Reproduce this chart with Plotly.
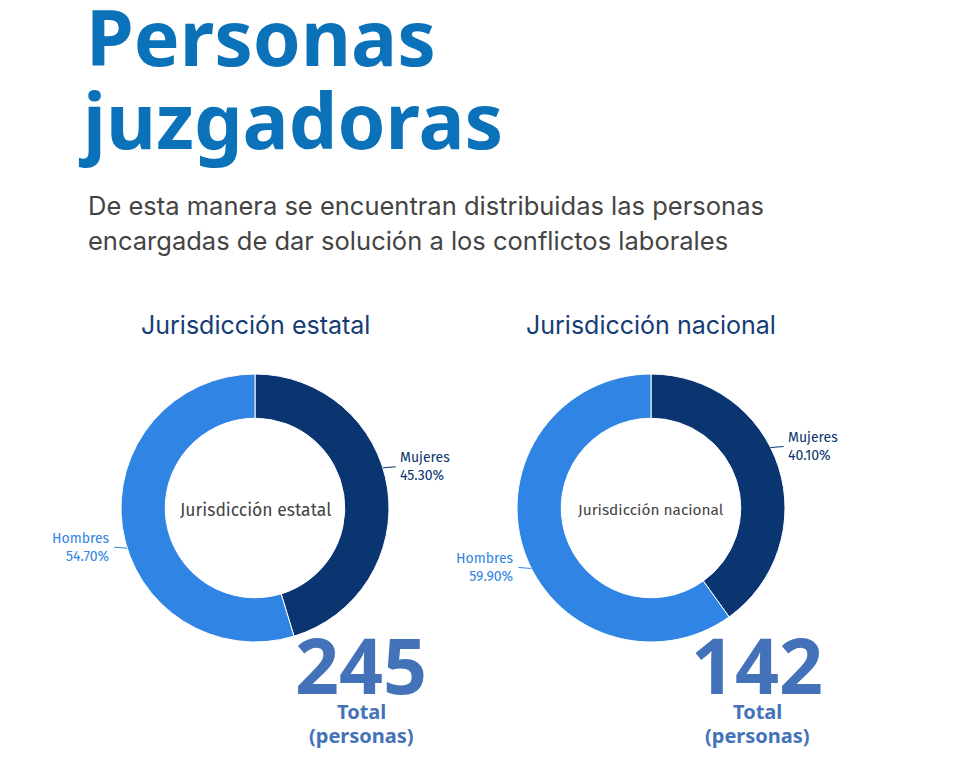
import math
import plotly.graph_objects as go

# data
categorias = ["Mujeres", "Hombres"]
estatal_pct = [45.3, 54.7]
nacional_pct = [40.1, 59.9]
totales = [245, 142]
jurisdicciones = ["Jurisdicción estatal", "Jurisdicción nacional"]

W, H = 962, 778
OFF = 8  # page margin of the html body
AZUL_OSCURO = "#0a3570"
AZUL_CLARO = "#2f84e4"
AZUL_TOTAL = "#4472b8"
colores = [AZUL_OSCURO, AZUL_CLARO]

# donut geometry in pixels (centre x, centre y, outer radius)
donas = [(255, 508, 134), (651, 508, 134)]
hueco = 0.67
giro_etiqueta = -9  # label angle shift, degrees


def px(x):
    return (x - OFF) / W


def py(y):
    return 1 - (y - OFF) / H


def texto(x, y, t, fuente, **kw):
    d = dict(x=px(x), y=py(y), xref="paper", yref="paper", text=t,
             showarrow=False, xanchor="center", yanchor="middle", font=fuente)
    d.update(kw)
    return d


fig = go.Figure()
anots = []

for i, valores in enumerate([estatal_pct, nacional_pct]):
    cx, cy, r = donas[i]
    fig.add_trace(go.Pie(
        labels=categorias,
        values=valores,
        hole=hueco,
        sort=False,
        direction="clockwise",
        rotation=0,
        marker=dict(colors=colores, line=dict(color="white", width=1)),
        textinfo="none",
        hoverinfo="label+percent",
        showlegend=False,
        domain=dict(x=[px(cx - r), px(cx + r)], y=[py(cy + r), py(cy - r)]),
    ))

    # outside labels with short connectors
    total = sum(valores)
    acumulado = 0
    for cat, v, col in zip(categorias, valores, colores):
        medio = (acumulado + v / 2) / total * 360 + giro_etiqueta
        acumulado += v
        ang = math.radians(medio)
        ex = cx + r * math.sin(ang)
        ey = cy - r * math.cos(ang)
        derecha = math.sin(ang) > 0
        anots.append(dict(
            x=px(ex), y=py(ey), xref="paper", yref="paper",
            text=f"{cat}<br>{v:.2f}%",
            showarrow=True, arrowhead=0, arrowwidth=1, arrowcolor=col,
            ax=13 if derecha else -13, ay=-1,
            xanchor="left" if derecha else "right", yanchor="middle",
            align="left" if derecha else "right",
            font=dict(family="Fira Sans, Noto Sans", size=14, color=col),
            borderpad=3,
        ))

    # text in the hole
    anots.append(texto(cx, cy + 2, jurisdicciones[i],
                       dict(family="Fira Sans, Noto Sans", size=17.5 if i == 0 else 15.4, color="#444444")))

    # heading above donut
    anots.append(texto(cx, 325, jurisdicciones[i], dict(family="Inter", size=25, color="#163c74")))

    # big total
    tx = cx + 106
    anots.append(texto(tx, 664, f"<b>{totales[i]}</b>", dict(family="Noto Sans", size=77, color=AZUL_TOTAL)))
    anots.append(texto(tx, 711, "<b>Total</b>", dict(family="Noto Sans", size=20, color=AZUL_TOTAL)))
    anots.append(texto(tx, 735, "<b>(personas)</b>", dict(family="Noto Sans", size=20, color=AZUL_TOTAL)))

# header
anots.append(texto(84, 37, "<b>Personas</b>", dict(family="Noto Sans", size=77, color="#0b72b9"), xanchor="left"))
anots.append(texto(76, 119, "<b>juzgadoras</b>", dict(family="Noto Sans", size=77, color="#0b72b9"), xanchor="left"))
anots.append(texto(86, 205, "De esta manera se encuentran distribuidas las personas",
                   dict(family="Inter", size=25.5, color="#444444"), xanchor="left"))
anots.append(texto(86, 240, "encargadas de dar solución a los conflictos laborales",
                   dict(family="Inter", size=25.5, color="#444444"), xanchor="left"))

fig.update_layout(
    width=W, height=H,
    margin=dict(l=0, r=0, t=0, b=0),
    paper_bgcolor="white", plot_bgcolor="white",
    annotations=anots,
)

fig.write_html("out.html")
